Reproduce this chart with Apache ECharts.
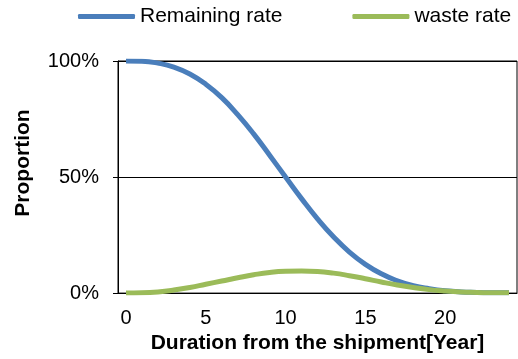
<!DOCTYPE html>
<html>
<head>
<meta charset="utf-8">
<script src="https://cdn.jsdelivr.net/npm/echarts@6/dist/echarts.min.js"></script>
<style>
html,body{margin:0;padding:0;background:#fff;}
#chart{width:518px;height:359px;}
</style>
</head>
<body>
<div id="chart"></div>
<script>
var years = ["0","1","2","3","4","5","6","7","8","9","10","11","12","13","14","15","16","17","18","19","20","21","22","23","24"];
var remainingRate = [100, 99.9, 99.1, 97.4, 94.4, 90.0, 84.2, 76.9, 68.6, 59.4, 50.0, 40.7, 32.0, 24.3, 17.7, 12.4, 8.3, 5.3, 3.2, 1.9, 1.0, 0.5, 0.3, 0.1, 0.1];
var wasteRate = [0, 0.1, 0.5, 1.3, 2.4, 3.8, 5.2, 6.6, 7.9, 8.9, 9.4, 9.5, 9.3, 8.6, 7.5, 6.2, 4.8, 3.5, 2.4, 1.5, 0.9, 0.5, 0.3, 0.1, 0.1];
var seriesNames = ["Remaining rate", "waste rate"];
var yTitle = "Proportion";
var xTitle = "Duration from the shipment[Year]";

var FONT = "Liberation Sans, Arial, sans-serif";
var chart = echarts.init(document.getElementById('chart'));
chart.setOption({
  animation: false,
  backgroundColor: '#fff',
  legend: {
    orient: 'horizontal',
    left: 78, top: 6, width: 440, padding: 0,
    itemWidth: 57, itemHeight: 5, itemGap: 70, itemTextGap: 4,
    icon: 'roundRect',
    textStyle: {fontFamily: FONT, fontSize: 21, color: '#000'},
    data: seriesNames
  },
  grid: {left: 118, right: 1, top: 61, bottom: 61, show: true, borderColor: '#000', borderWidth: 1, backgroundColor: 'transparent'},
  xAxis: {
    type: 'category', data: years, boundaryGap: true,
    name: xTitle, nameLocation: 'middle', nameGap: 36,
    nameTextStyle: {fontFamily: FONT, fontSize: 21, fontWeight: 'bold', color: '#000'},
    axisLine: {lineStyle: {color: '#000', width: 1}},
    axisTick: {interval: 4, length: 5, lineStyle: {color: '#000'}},
    axisLabel: {interval: 4, margin: 15, fontFamily: FONT, fontSize: 20, color: '#000'},
    splitLine: {show: false}
  },
  yAxis: {
    type: 'value', min: 0, max: 100, interval: 50,
    axisLine: {show: true, lineStyle: {color: '#000', width: 1}},
    axisTick: {show: true, length: 5, lineStyle: {color: '#000'}},
    axisLabel: {formatter: '{value}%', margin: 19, fontFamily: FONT, fontSize: 20, color: '#000'},
    splitLine: {show: true, lineStyle: {color: '#000', width: 1}}
  },
  graphic: [{
    type: 'text', x: 23, y: 163, rotation: Math.PI / 2,
    style: {text: yTitle, fontFamily: FONT, fontSize: 21, fontWeight: 'bold', fill: '#000', align: 'center', verticalAlign: 'middle'}
  }],
  series: [
    {name: seriesNames[0], type: 'line', data: remainingRate, smooth: true, showSymbol: false,
     lineStyle: {color: '#4A7EBB', width: 5}, itemStyle: {color: '#4A7EBB'}},
    {name: seriesNames[1], type: 'line', data: wasteRate, smooth: true, showSymbol: false,
     lineStyle: {color: '#9BBB59', width: 5}, itemStyle: {color: '#9BBB59'}}
  ]
});
</script>
</body>
</html>
